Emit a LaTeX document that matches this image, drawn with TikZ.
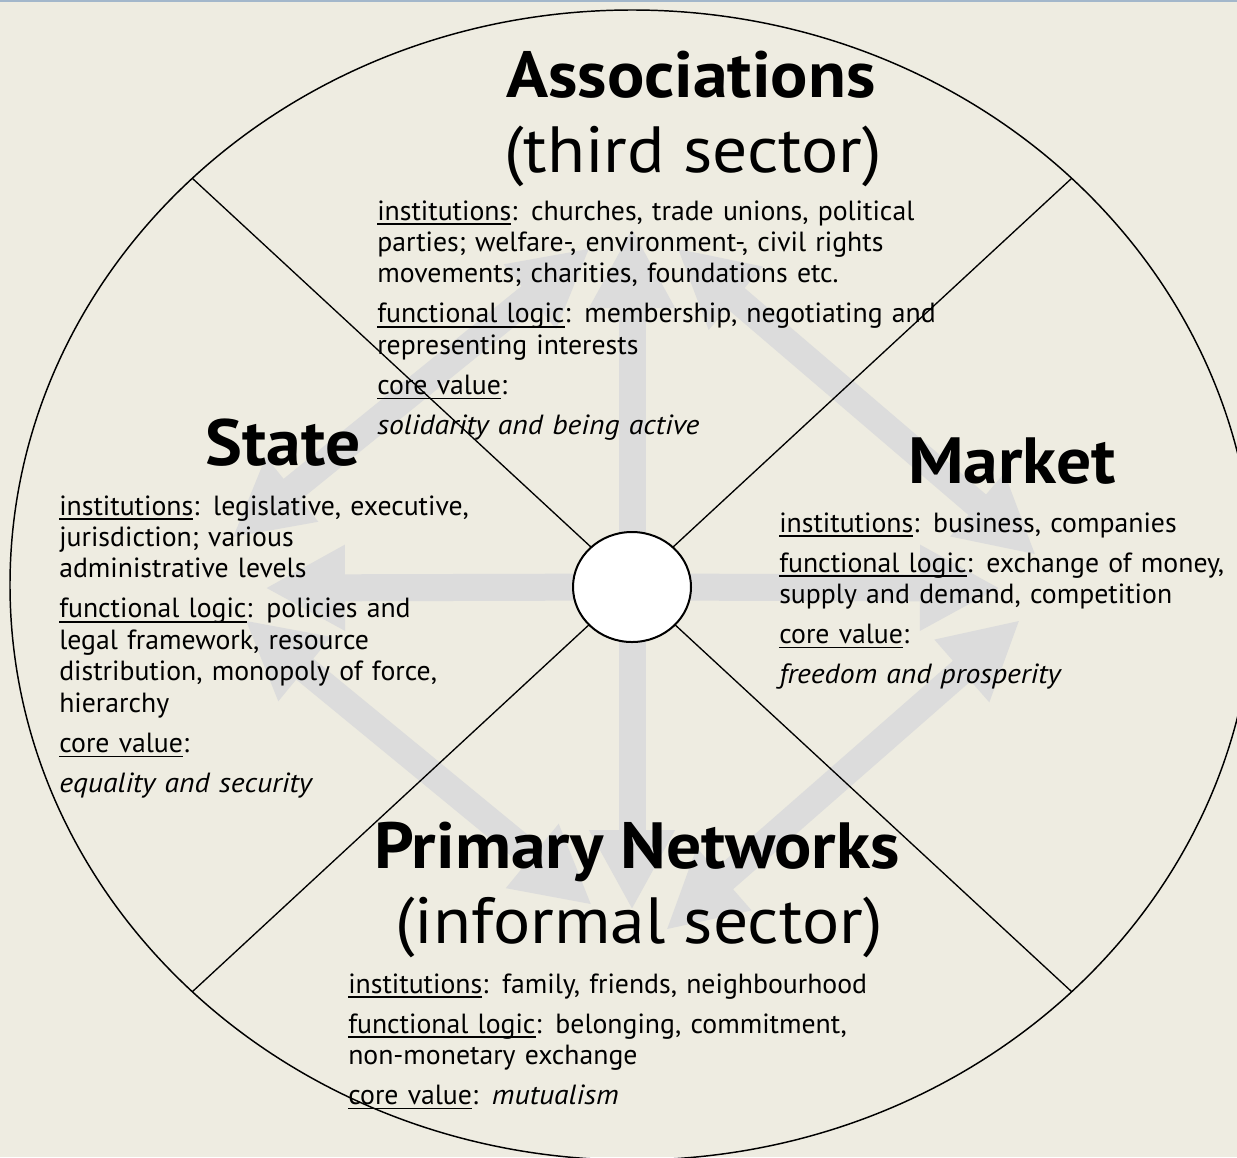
\documentclass[tikz,border=0pt]{standalone}
\usepackage{fontspec}
\setmainfont{PT Sans}[ItalicFeatures={FakeStretch=1.07}]
\newfontfamily\sectorfont{PT Sans}[FakeStretch=1.065]
\usetikzlibrary{arrows.meta,shapes.geometric}

\definecolor{slidebg}{HTML}{EEECE1}
\definecolor{arrowgrey}{HTML}{DCDCDC}
\definecolor{rimblue}{HTML}{A3B7CB}

% underlined key word with a firm rule
\newcommand{\keyword}[1]{\leavevmode\setbox0=\hbox{#1}\rlap{\rule[-3.6pt]{\wd0}{1pt}}\box0}

\tikzset{
  onearrow/.style={arrowgrey, line width=20.25pt,
    -{Triangle[length=60pt 0 1,width=60pt 0 1]}},
  twoarrow/.style={onearrow,
    {Triangle[length=58pt 0 1,width=58pt 0 1]}-{Triangle[length=58pt 0 1,width=58pt 0 1]}},
  sector/.style={anchor=base, inner sep=0pt, font=\sectorfont\fontsize{49}{56}\selectfont},
  facts/.style={anchor=base west, inner sep=0pt, align=left, text width=500pt,
    font=\fontsize{20.8}{23.6}\selectfont},
}

\begin{document}
\begin{tikzpicture}[x=0.75pt,y=-0.75pt]
  \useasboundingbox (0,0) rectangle (1237,1157);
  \fill[slidebg] (0,0) rectangle (1237,1157);
  \draw[rimblue, line width=1.5pt] (0,0.8) -- (1237,0.8);

  % outer ring, cut by the page edge
  \begin{scope}
    \clip (0,0) rectangle (1237,1157);
    \draw[line width=1.1pt] (632,585) ellipse [x radius=622, y radius=575];
  \end{scope}

  % grey arrows
  \coordinate (c) at (632,587);
  \coordinate (n) at (632,228);
  \coordinate (s) at (632,910);
  \coordinate (w) at (265,588);
  \coordinate (e) at (1000,588);
  \draw[onearrow] (c) -- (n);
  \draw[onearrow] (c) -- (s);
  \draw[onearrow] (c) -- (w);
  \draw[onearrow] (c) -- (e);

  \coordinate (nw1) at (590,248);
  \coordinate (nw2) at (232,538);
  \coordinate (ne1) at (677,248);
  \coordinate (ne2) at (1036,555);
  \coordinate (se1) at (1020,620);
  \coordinate (se2) at (666,930);
  \coordinate (sw1) at (245,620);
  \coordinate (sw2) at (592,905);
  \draw[twoarrow] (nw1) -- (nw2);
  \draw[twoarrow] (ne1) -- (ne2);
  \draw[twoarrow] (se1) -- (se2);
  \draw[twoarrow] (sw1) -- (sw2);

  % sector borders
  \draw[line width=1pt] (192,178) -- (1072,992);
  \draw[line width=1pt] (1072,178) -- (192,992);

  \node (hub) [draw, fill=white, line width=1.5pt, ellipse, inner sep=0pt,
    minimum width=88.5pt, minimum height=82.5pt] at (c) {};

  % the four sectors
  \node (assoc) [sector] at (691,97) {\textbf{Associations}};
  \node (assocsub) [sector] at (693,172) {(third sector)};
  \node (assocfacts) [facts] at (377,220) {%
    \keyword{institutions}: churches, trade unions, political\\
    parties; welfare-, environment-, civil rights\\
    movements; charities, foundations etc.\\[6.4pt]
    \keyword{functional logic}: membership, negotiating and\\
    representing interests\\[6.4pt]
    \keyword{core value}:\\[6.4pt]
    \textit{solidarity and being active}};

  \node (state) [sector] at (283,465) {\textbf{State}};
  \node (statefacts) [facts] at (59,515) {%
    \keyword{institutions}: legislative, executive,\\
    jurisdiction; various\\
    administrative levels\\[6.4pt]
    \keyword{functional logic}: policies and\\
    legal framework, resource\\
    distribution, monopoly of force,\\
    hierarchy\\[6.4pt]
    \keyword{core value}:\\[6.4pt]
    \textit{equality and security}};

  \node (market) [sector] at (1012,483) {\textbf{Market}};
  \node (marketfacts) [facts] at (779,532) {%
    \keyword{institutions}: business, companies\\[6.4pt]
    \keyword{functional logic}: exchange of money,\\
    supply and demand, competition\\[6.4pt]
    \keyword{core value}:\\[6.4pt]
    \textit{freedom and prosperity}};

  \node (primary) [sector] at (637,868) {\textbf{Primary Networks}};
  \node (primarysub) [sector] at (639,943) {(informal sector)};
  \node (primaryfacts) [facts] at (348,993) {%
    \keyword{institutions}: family, friends, neighbourhood\\[6.4pt]
    \keyword{functional logic}: belonging, commitment,\\
    non-monetary exchange\\[6.4pt]
    \keyword{core value}: \textit{mutualism}};
\end{tikzpicture}
\end{document}
